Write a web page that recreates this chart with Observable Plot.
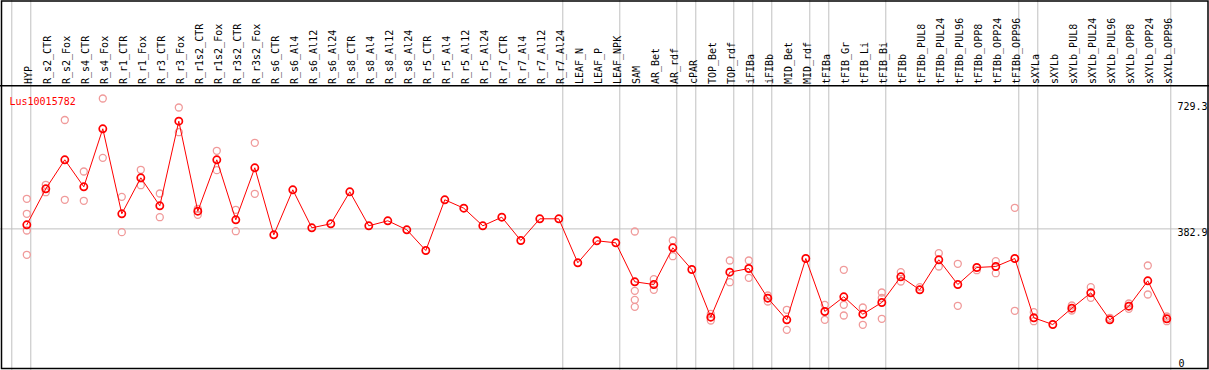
<!DOCTYPE html>
<html><head><meta charset="utf-8">
<script src="https://cdn.jsdelivr.net/npm/d3@7"></script>
<script src="https://cdn.jsdelivr.net/npm/@observablehq/plot@0.6"></script>
<style>html,body{margin:0;padding:0;background:#fff;overflow:hidden}#chart svg{display:block}</style>
</head><body><div id="chart"></div>
<script>
const title = "Lus10015782";
const categories = ["HYP","R_s2_CTR","R_s2_Fox","R_s4_CTR","R_s4_Fox","R_r1_CTR","R_r1_Fox","R_r3_CTR","R_r3_Fox","R_r1s2_CTR","R_r1s2_Fox","R_r3s2_CTR","R_r3s2_Fox","R_s6_CTR","R_s6_Al4","R_s6_Al12","R_s6_Al24","R_s8_CTR","R_s8_Al4","R_s8_Al12","R_s8_Al24","R_r5_CTR","R_r5_Al4","R_r5_Al12","R_r5_Al24","R_r7_CTR","R_r7_Al4","R_r7_Al12","R_r7_Al24","LEAF_N","LEAF_P","LEAF_NPK","SAM","AR_Bet","AR_rdf","cPAR","TOP_Bet","TOP_rdf","iFIBa","iFIBb","MID_Bet","MID_rdf","tFIBa","tFIB_Gr","tFIB_Li","tFIB_Bi","tFIBb","tFIBb_PUL8","tFIBb_PUL24","tFIBb_PUL96","tFIBb_OPP8","tFIBb_OPP24","tFIBb_OPP96","sXYLa","sXYLb","sXYLb_PUL8","sXYLb_PUL24","sXYLb_PUL96","sXYLb_OPP8","sXYLb_OPP24","sXYLb_OPP96"];
const means = [394.2,493.4,573.3,498.9,658.8,424.5,523.7,446.5,679.7,431.6,573.3,407.9,551.3,366.6,490.6,385.9,396.9,485.1,391.4,405.2,380.4,323.3,463.1,439.9,391.4,415.1,350.9,410.7,410.7,289.4,350.1,344.5,237.0,229.6,330.8,270.9,139.5,263.5,273.7,191.8,132.3,301.3,155.2,195.7,147.7,180.0,250.8,215.0,297.7,229.6,276.5,279.2,301.3,137.8,119.3,164.3,206.7,132.3,169.8,239.8,135.1];
const replicates = [
  [465.8,424.5,378.4,311.5],[504.4,484.0],[683.0,463.1],[541.1,460.3],[742.3,578.8],
  [471.3,373.8],[545.8,503.3],[480.4,415.1],[717.5,649.4],[438.3,421.7],
  [598.1,544.7],[435.5,376.5],[620.2,479.6],[],[],
  [],[],[],[],[],
  [],[],[],[],[],
  [],[],[],[],[],
  [],[],[375.7,212.2,187.4,168.1],[244.2,215.0],[350.9,307.6],
  [],[148.8,130.4],[295.8,235.9],[295.8,248.1],[199.3,182.7],
  [159.9,104.7],[],[173.6,132.3],[270.1,173.6,144.2],[166.2,118.5],
  [207.5,192.4,135.1],[263.5,237.9],[222.2],[315.9,279.2],[286.7,170.9],
  [269.0],[293.8,260.7],[441.0,157.1],[153.3,128.4],[],
  [171.7,157.9],[222.2,192.9],[137.8],[177.2,162.6],[282.0,202.0],
  [141.4,128.4]
];
const groupEnds = [-1,0,28,31,34,35,37,38,39,41,42,45,52,53,60];
const yTicks = [729.3,382.9,0];
const yTickLabels = ["729.3","382.9","0"];
const gridY = [382.9];

// layout
const W = 1209, H = 370;
const x0 = 26.3, step = 19;
const yZero = 367.3, pxPerUnit = 0.3628;
const headerPx = 85.3;
const xDomain = [-x0/step, (W - x0)/step];
const yDomain = [(yZero - H)/pxPerUnit, yZero/pxPerUnit];
const headerValue = (yZero - headerPx)/pxPerUnit;

const meanRows = categories.map((c, i) => ({i, c, v: means[i]}));
const repRows = replicates.flatMap((vs, i) => vs.map(v => ({i, v})));
const font = "DejaVu Sans Mono";

const chart = Plot.plot({
  width: W, height: H,
  marginTop: 0, marginRight: 0, marginBottom: 0, marginLeft: 0,
  x: {type: "linear", domain: xDomain, axis: null},
  y: {type: "linear", domain: yDomain, axis: null},
  style: {background: "#fff", overflow: "visible"},
  marks: [
    Plot.ruleX(groupEnds.map(g => g + 0.21), {stroke: "#c0c0c0", strokeWidth: 1}),
    Plot.ruleY(gridY, {stroke: "#c0c0c0", strokeWidth: 1}),
    Plot.ruleY([headerValue], {stroke: "#000", strokeWidth: 1.5}),
    Plot.frame({stroke: "#000", strokeWidth: 1.5, insetLeft: 1, insetRight: 1.5, insetTop: 0.5, insetBottom: 2}),
    Plot.text(meanRows, {x: "i", text: "c", frameAnchor: "top", dy: 83.5, dx: -1.5, rotate: -90, textAnchor: "start", fontFamily: font, fontSize: 10, fill: "#000"}),
    Plot.text([title], {text: d => d, frameAnchor: "top-left", dx: 9, dy: 97, textAnchor: "start", fontFamily: font, fontSize: 10, fill: "#ff0000"}),
    Plot.text(yTicks.slice(0, 2), {y: d => d, text: (d, i) => yTickLabels[i], frameAnchor: "right", dx: -2, textAnchor: "end", lineAnchor: "top", fontFamily: font, fontSize: 10, fill: "#000"}),
    Plot.text(yTicks.slice(2), {y: d => d, text: (d, i) => yTickLabels[i + 2], frameAnchor: "right", dx: -25, dy: -1, textAnchor: "end", lineAnchor: "bottom", fontFamily: font, fontSize: 10, fill: "#000"}),
    Plot.dot(repRows, {x: "i", y: "v", r: 3.5, stroke: "#f09a9a", strokeWidth: 1.3, fill: "none"}),
    Plot.line(meanRows, {x: "i", y: "v", stroke: "#ff0000", strokeWidth: 1}),
    Plot.dot(meanRows, {x: "i", y: "v", r: 3.6, stroke: "#ff0000", strokeWidth: 1.7, fill: "none"})
  ]
});
document.getElementById("chart").appendChild(chart);
</script>
</body></html>
